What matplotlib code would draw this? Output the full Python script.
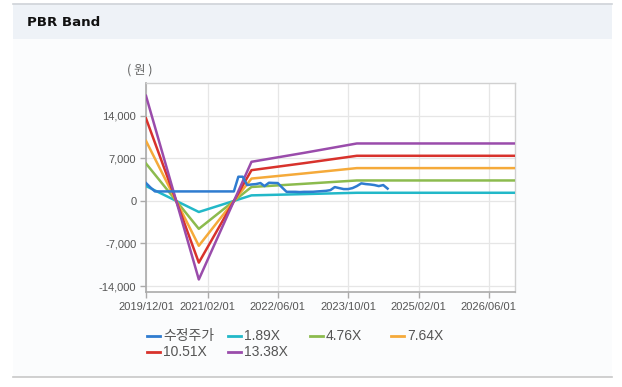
import matplotlib
matplotlib.use("Agg")
import matplotlib.pyplot as plt
from matplotlib.lines import Line2D
from matplotlib.patches import Rectangle
import datetime as dt

# ---------------- data ----------------
band_dates = ["2019-12-01", "2020-12-01", "2021-12-01", "2022-12-01", "2023-12-01", "2026-12-01"]
band_1_89 = [2438, -1824, 907, 1115, 1332, 1332]
band_4_76 = [6140, -4593, 2285, 2808, 3356, 3356]
band_7_64 = [9856, -7373, 3667, 4508, 5386, 5386]
band_10_51 = [13558, -10142, 5045, 6201, 7410, 7410]
band_13_38 = [17260, -12912, 6422, 7894, 9433, 9433]

price_dates = ["2019-12-01", "2020-01-01", "2020-02-01", "2021-08-01", "2021-09-01", "2021-10-01",
               "2021-11-01", "2021-12-01", "2022-01-01", "2022-02-01", "2022-03-01", "2022-04-01",
               "2022-05-01", "2022-06-01", "2022-07-01", "2022-08-01", "2022-09-01", "2022-10-01",
               "2022-11-01", "2022-12-01", "2023-01-01", "2023-02-01", "2023-03-01", "2023-04-01",
               "2023-05-01", "2023-06-01", "2023-07-01", "2023-08-01", "2023-09-01", "2023-10-01",
               "2023-11-01", "2023-12-01", "2024-01-01", "2024-02-01", "2024-03-01", "2024-04-01",
               "2024-05-01", "2024-06-01", "2024-07-01"]
price_vals = [2930, 2200, 1555, 1555, 3970, 3970,
              2600, 2700, 2760, 2930, 2430, 2980,
              2950, 2930, 2200, 1490, 1490, 1490,
              1450, 1490, 1490, 1500, 1550, 1600,
              1650, 1770, 2270, 2100, 1940, 1940,
              2100, 2430, 2880, 2760, 2700, 2600,
              2430, 2600, 2020]

series_labels = ["수정주가", "1.89X", "4.76X", "7.64X", "10.51X", "13.38X"]
series_colors = ["#2f7cd0", "#22b8c8", "#8cbb4e", "#f5aa3a", "#d8322c", "#9a4cab"]

x_ticks = ["2019-12-01", "2021-02-01", "2022-06-01", "2023-10-01", "2025-02-01", "2026-06-01"]
x_tick_labels = ["2019/12/01", "2021/02/01", "2022/06/01", "2023/10/01", "2025/02/01", "2026/06/01"]
y_ticks = [-14000, -7000, 0, 7000, 14000]
y_tick_labels = ["-14,000", "-7,000", "0", "7,000", "14,000"]

# ---------------- figure ----------------
W, H = 622, 387
fig = plt.figure(figsize=(W / 100, H / 100), dpi=100)
fig.patch.set_facecolor("white")

def px_rect(x0, y0, x1, y1, color, z=0):
    fig.add_artist(Rectangle((x0 / W, 1 - y1 / H), (x1 - x0) / W, (y1 - y0) / H,
                             transform=fig.transFigure, facecolor=color, edgecolor="none", zorder=z))

def px_hline(x0, x1, y, color, lw=1.0):
    fig.add_artist(Line2D([x0 / W, x1 / W], [1 - y / H, 1 - y / H], transform=fig.transFigure,
                          color=color, lw=lw, zorder=1))

# panel
px_rect(13, 3, 612, 377, "#fbfcfd")
px_rect(13, 4, 612, 39, "#eef2f7")
px_hline(13, 612, 3.5, "#cfd3d8", 1.2)
px_hline(13, 612, 377, "#c8c8c8", 1.2)

fig.text(27 / W, 1 - 22.5 / H, "PBR Band", fontsize=9.6, fontweight="bold",
         family=["DejaVu Sans"], color="#111111", va="center", ha="left")

ax = fig.add_axes([146 / W, 1 - 292.3 / H, (515 - 146) / W, (292.3 - 83.3) / H])
ax.set_facecolor("white")

bd = [dt.datetime.fromisoformat(d) for d in band_dates]
pdates = [dt.datetime.fromisoformat(d) for d in price_dates]

bands = [band_1_89, band_4_76, band_7_64, band_10_51, band_13_38]
for vals, c in zip(bands, series_colors[1:]):
    ax.plot(bd, vals, color=c, lw=1.8, solid_joinstyle="round", zorder=3)
ax.plot(pdates, price_vals, color=series_colors[0], lw=1.8, solid_joinstyle="round", zorder=4)

ax.set_xlim(dt.datetime(2019, 12, 1), dt.datetime(2026, 12, 1))
ax.set_ylim(-15020, 19320)

ax.set_xticks([dt.datetime.fromisoformat(d) for d in x_ticks])
ax.set_xticklabels(x_tick_labels)
ax.set_yticks(y_ticks)
ax.set_yticklabels(y_tick_labels)

ax.grid(True, color="#e6e6e6", lw=0.9, zorder=0)
ax.set_axisbelow(True)
for s in ["top", "right"]:
    ax.spines[s].set_color("#d0d0d0")
    ax.spines[s].set_linewidth(1.0)
for s in ["left", "bottom"]:
    ax.spines[s].set_color("#aaaaaa")
    ax.spines[s].set_linewidth(1.2)
ax.tick_params(axis="both", colors="#aaaaaa", length=4, width=1, labelsize=8, labelcolor="#555555")
ax.tick_params(axis="y", pad=3)
ax.tick_params(axis="x", pad=3)
for lab in ax.get_xticklabels() + ax.get_yticklabels():
    lab.set_family(["Liberation Sans", "DejaVu Sans"])

fig.text(140 / W, 1 - 70 / H, "( 원 )", fontsize=9, color="#666666", ha="center", va="center",
         family=["Noto Sans CJK KR", "DejaVu Sans"])

# legend (manual)
leg_pos = [(147, 336), (228, 336), (310, 336), (391, 336), (147, 352), (228, 352)]
for (lx, ly), lab, c in zip(leg_pos, series_labels, series_colors):
    fig.add_artist(Line2D([lx / W, (lx + 13) / W], [1 - ly / H, 1 - ly / H], transform=fig.transFigure,
                          color=c, lw=2.0))
    fig.text((lx + 16) / W, 1 - ly / H, lab, fontsize=10, color="#555555", ha="left", va="center",
             family=["Noto Sans CJK KR", "DejaVu Sans"] if lab == "수정주가" else ["Liberation Sans", "DejaVu Sans"])

fig.savefig("out.png", dpi=100)
